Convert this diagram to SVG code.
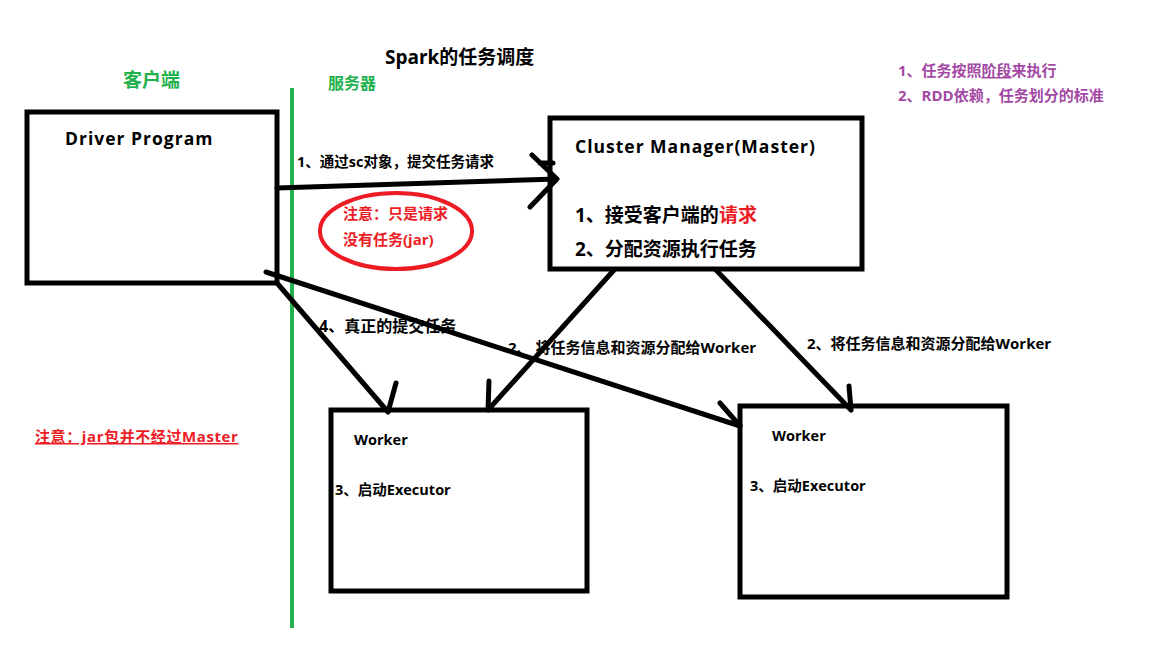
<svg xmlns="http://www.w3.org/2000/svg" width="1152" height="648" viewBox="0 0 1152 648">
<style>
text{font-family:"Open Sans","Noto Sans CJK SC",sans-serif;font-weight:bold;fill:#000}
.box{fill:#fff;stroke:#000;stroke-width:5}
.ln{fill:none;stroke:#000;stroke-width:5;stroke-linecap:round;stroke-linejoin:round}
.green{fill:#22b14c}
.red{fill:#ed1c24}
.purple{fill:#a349a4}
</style>
<rect width="1152" height="648" fill="#fff"/>
<g id="title">
<text x="385" y="64" font-size="19">Spark的任务调度</text>
</g>
<g id="notes">
<text x="898" y="76" font-size="15" class="purple">1、任务按照<tspan text-decoration="underline">阶段</tspan>来执行</text>
<text x="898" y="101" font-size="15" class="purple">2、RDD依赖，任务划分的标准</text>
<text x="35" y="442" font-size="15" letter-spacing="0.6" class="red" text-decoration="underline">注意：jar包并不经过Master</text>
</g>
<g id="zones">
<text x="123" y="87" font-size="19" class="green">客户端</text>
<text x="328" y="89" font-size="16" class="green">服务器</text>
<line x1="292" y1="88" x2="292" y2="628" stroke="#22b14c" stroke-width="4"/>
</g>
<g id="driver">
<rect class="box" x="27" y="112" width="250" height="171"/>
<text x="65" y="145" font-size="17.5" letter-spacing="1">Driver Program</text>
</g>
<g id="master">
<rect class="box" x="550" y="118" width="312" height="151"/>
<text x="575" y="153" font-size="17.5" letter-spacing="1">Cluster Manager(Master)</text>
<text x="575" y="222" font-size="19">1、接受客户端的<tspan class="red">请求</tspan></text>
<text x="575" y="256" font-size="19">2、分配资源执行任务</text>
</g>
<g id="worker1">
<rect class="box" x="331" y="410" width="256" height="181"/>
<text x="354" y="445" font-size="14.5">Worker</text>
<text x="335" y="495" font-size="14.5">3、启动Executor</text>
</g>
<g id="worker2">
<rect class="box" x="740" y="406" width="267" height="191"/>
<text x="772" y="441" font-size="14.5">Worker</text>
<text x="750" y="491" font-size="14.5">3、启动Executor</text>
</g>
<g id="note-ellipse">
<ellipse cx="396" cy="231" rx="76" ry="38" fill="none" stroke="#ed1c24" stroke-width="4"/>
<text x="343" y="219" font-size="15" class="red">注意：只是请求</text>
<text x="343" y="245" font-size="15" class="red">没有任务(jar)</text>
</g>
<g id="connectors">
<text x="297" y="167" font-size="14.5">1、通过sc对象，提交任务请求</text>
<text x="319" y="332" font-size="16">4、真正的提交任务</text>
<text x="508" y="353" font-size="15">2、 将任务信息和资源分配给Worker</text>
<text x="807" y="349" font-size="15">2、将任务信息和资源分配给Worker</text>
<path class="ln" d="M277 188 L557 179 M532 155 L557 179 M530 207 L557 179 M540 163 L553 163"/>
<path class="ln" d="M266 272 L740 426 M720 403 L740 426"/>
<path class="ln" d="M277 283 L388 412 M396 383 L388 412"/>
<path class="ln" d="M614 270 L488 410 M489 381 L488 410"/>
<path class="ln" d="M716 270 L851 410 M849 386 L851 410"/>
</g>
</svg>
